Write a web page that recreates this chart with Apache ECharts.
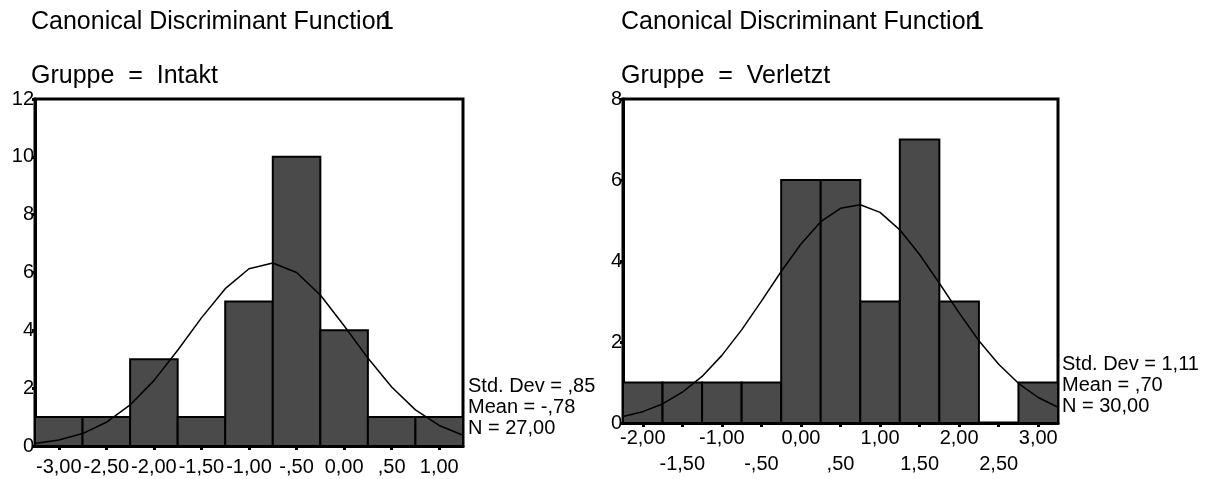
<!DOCTYPE html>
<html>
<head>
<meta charset="utf-8">
<script src="https://cdn.jsdelivr.net/npm/echarts@6/dist/echarts.min.js"></script>
<style>
  html, body { margin: 0; padding: 0; background: #fff; }
  #chart { width: 1216px; height: 479px; }
</style>
</head>
<body>
<div id="chart"></div>
<script>
// ---- Group "Intakt": histogram of discriminant scores ----
const intaktBins = [-3.0, -2.5, -2.0, -1.5, -1.0, -0.5, 0.0, 0.5, 1.0];
const intaktCounts = [1, 1, 3, 1, 5, 10, 4, 1, 1];
const intaktTickLabels = ['-3,00', '-2,50', '-2,00', '-1,50', '-1,00', '-,50', '0,00', ',50', '1,00'];
// normal curve overlay
const intaktCurveX = [-3.25, -3.0, -2.75, -2.5, -2.25, -2.0, -1.75, -1.5, -1.25, -1.0, -0.75, -0.5, -0.25, 0.0, 0.25, 0.5, 0.75, 1.0, 1.25];
const intaktCurveY = [0.09, 0.21, 0.43, 0.82, 1.42, 2.26, 3.31, 4.43, 5.44, 6.13, 6.33, 6.00, 5.22, 4.16, 3.04, 2.04, 1.25, 0.71, 0.37];
const intaktYTicks = [0, 12, 2];
const intaktStats = ['Std. Dev = ,85', 'Mean = -,78', 'N = 27,00'];

// ---- Group "Verletzt" ----
const verletztBins = [-2.0, -1.5, -1.0, -0.5, 0.0, 0.5, 1.0, 1.5, 2.0, 2.5, 3.0];
const verletztCounts = [1, 1, 1, 1, 6, 6, 3, 7, 3, 0, 1];
const verletztTickLabels = ['-2,00', '-1,50', '-1,00', '-,50', '0,00', ',50', '1,00', '1,50', '2,00', '2,50', '3,00'];
const verletztCurveX = [-2.25, -2.0, -1.75, -1.5, -1.25, -1.0, -0.75, -0.5, -0.25, 0.0, 0.25, 0.5, 0.75, 1.0, 1.25, 1.5, 1.75, 2.0, 2.25, 2.5, 2.75, 3.0, 3.25];
const verletztCurveY = [0.16, 0.28, 0.47, 0.76, 1.15, 1.67, 2.30, 3.01, 3.74, 4.42, 4.97, 5.30, 5.39, 5.20, 4.77, 4.16, 3.45, 2.72, 2.03, 1.45, 0.98, 0.63, 0.39];
const verletztYTicks = [0, 8, 2];
const verletztStats = ['Std. Dev = 1,11', 'Mean = ,70', 'N = 30,00'];

const titleText = 'Canonical Discriminant Function';
const titleSuffix = '1';
const groupTitles = ['Gruppe  =  Intakt', 'Gruppe  =  Verletzt'];

const BIN_WIDTH = 0.5;
const FONT = '"Liberation Sans", Arial, sans-serif';
const BAR_FILL = '#4a4a4a';

function zip(a, b) { return a.map((v, i) => [v, b[i]]); }

function binRenderer(params, api) {
  const c = api.value(0), n = api.value(1);
  if (!n) return null;
  const p0 = api.coord([c - BIN_WIDTH / 2, n]);
  const p1 = api.coord([c + BIN_WIDTH / 2, 0]);
  return {
    type: 'rect',
    shape: { x: p0[0], y: p0[1], width: p1[0] - p0[0], height: p1[1] - p0[1] },
    style: { fill: BAR_FILL, stroke: '#000', lineWidth: 2 }
  };
}

// label lookup: tick value -> its text
function labelOf(bins, labels) {
  return (v) => {
    let i = 0, best = Infinity;
    bins.forEach((b, k) => { const d = Math.abs(b - v); if (d < best) { best = d; i = k; } });
    return labels[i];
  };
}

function xAxisFor(gridIndex, bins, labels, labelValues, opts) {
  return {
    type: 'value', gridIndex, position: 'bottom',
    min: bins[0] - BIN_WIDTH / 2, max: bins[bins.length - 1] + BIN_WIDTH / 2,
    splitLine: { show: false },
    axisLine: { show: opts.line, onZero: false, lineStyle: { color: '#000', width: 3 } },
    axisTick: { show: opts.line, customValues: bins, length: 4, lineStyle: { color: '#000', width: 3 } },
    axisLabel: {
      customValues: labelValues, hideOverlap: false,
      margin: opts.margin, fontSize: 20, fontFamily: FONT, color: '#000',
      formatter: labelOf(bins, labels)
    }
  };
}

function yAxisFor(gridIndex, ticks) {
  return {
    type: 'value', gridIndex, min: ticks[0], max: ticks[1], interval: ticks[2],
    splitLine: { show: false },
    axisLine: { show: true, onZero: false, lineStyle: { color: '#000', width: 3 } },
    axisTick: { show: true, length: 3, lineStyle: { color: '#000', width: 3 } },
    axisLabel: { margin: 1, fontSize: 20, fontFamily: FONT, color: '#000' }
  };
}

function textEl(x, y, text, size, align) {
  return {
    type: 'text', x, y, silent: true,
    style: { text, font: size + 'px ' + FONT, fill: '#000', align: align || 'left', verticalAlign: 'middle' }
  };
}

const graphics = [
  textEl(31, 22, titleText, 25),
  textEl(394, 22, titleSuffix, 25, 'right'),
  textEl(31, 76, groupTitles[0], 25),
  textEl(621, 22, titleText, 25),
  textEl(984, 22, titleSuffix, 25, 'right'),
  textEl(621, 76, groupTitles[1], 25)
];
intaktStats.forEach((s, i) => graphics.push(textEl(468, 386 + i * 21, s, 20)));
verletztStats.forEach((s, i) => graphics.push(textEl(1062, 364 + i * 21, s, 20)));

// the second group's tick labels alternate between two rows
const verletztRow1 = verletztBins.filter((_, i) => i % 2 === 0);
const verletztRow2 = verletztBins.filter((_, i) => i % 2 === 1);

const chart = echarts.init(document.getElementById('chart'), null, { renderer: 'canvas' });
chart.setOption({
  animation: false,
  backgroundColor: '#fff',
  grid: [
    { left: 35, top: 99, width: 428, height: 347, show: true, borderColor: '#000', borderWidth: 3, containLabel: false },
    { left: 623, top: 99, width: 435, height: 324, show: true, borderColor: '#000', borderWidth: 3, containLabel: false }
  ],
  xAxis: [
    xAxisFor(0, intaktBins, intaktTickLabels, intaktBins, { margin: 11, line: true }),
    xAxisFor(1, verletztBins, verletztTickLabels, verletztRow1, { margin: 5, line: true }),
    xAxisFor(1, verletztBins, verletztTickLabels, verletztRow2, { margin: 31, line: false })
  ],
  yAxis: [yAxisFor(0, intaktYTicks), yAxisFor(1, verletztYTicks)],
  series: [
    { type: 'custom', xAxisIndex: 0, yAxisIndex: 0, renderItem: binRenderer, data: zip(intaktBins, intaktCounts), z: 2 },
    { type: 'line', xAxisIndex: 0, yAxisIndex: 0, data: zip(intaktCurveX, intaktCurveY), symbol: 'none', smooth: false, lineStyle: { color: '#000', width: 1.5 }, z: 3 },
    { type: 'custom', xAxisIndex: 1, yAxisIndex: 1, renderItem: binRenderer, data: zip(verletztBins, verletztCounts), z: 2 },
    { type: 'line', xAxisIndex: 1, yAxisIndex: 1, data: zip(verletztCurveX, verletztCurveY), symbol: 'none', smooth: false, lineStyle: { color: '#000', width: 1.5 }, z: 3 }
  ],
  graphic: graphics
});
</script>
</body>
</html>
